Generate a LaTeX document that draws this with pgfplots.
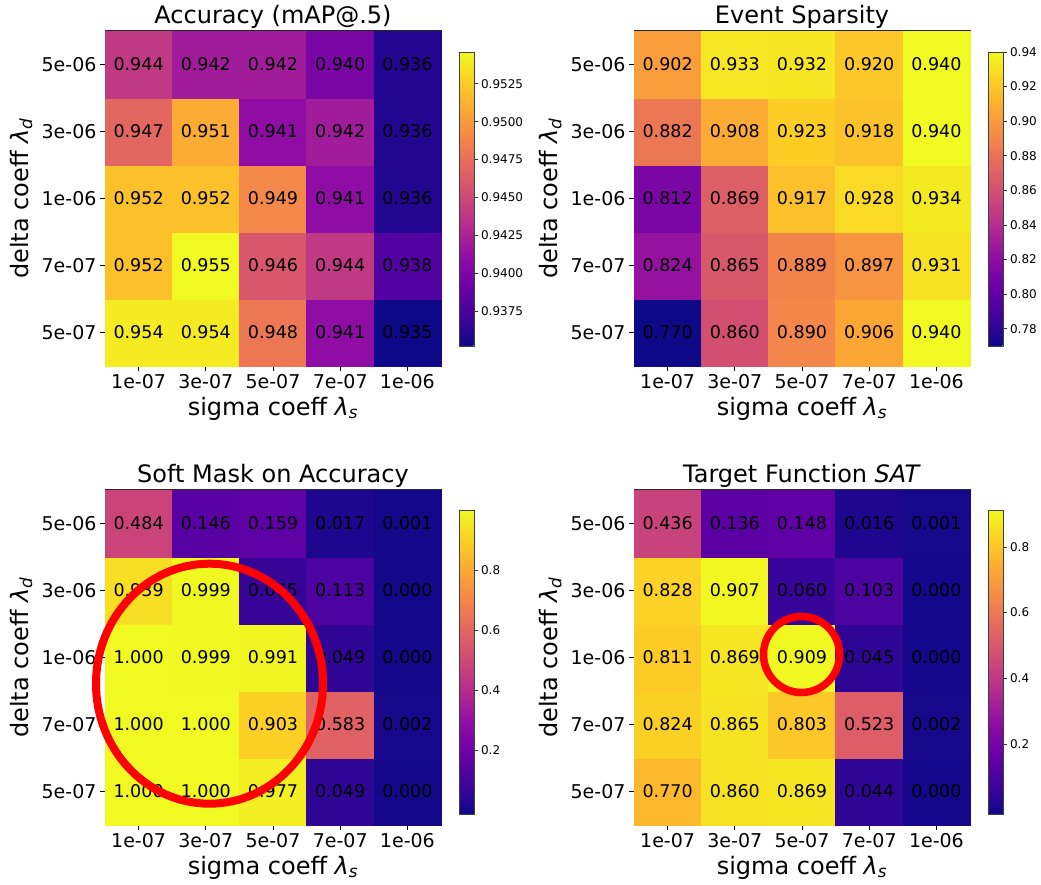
\documentclass[border=0pt]{standalone}
\usepackage{pgfplots}
\pgfplotsset{compat=1.18}
\usepackage{pgfplotstable}
\usepackage{fontspec}
\setmainfont{DejaVu Sans}

\pgfplotstableread{
x y v
0 0 0.954
1 0 0.954
2 0 0.948
3 0 0.941
4 0 0.935
0 1 0.952
1 1 0.955
2 1 0.946
3 1 0.944
4 1 0.938
0 2 0.952
1 2 0.952
2 2 0.949
3 2 0.941
4 2 0.936
0 3 0.947
1 3 0.951
2 3 0.941
3 3 0.942
4 3 0.936
0 4 0.944
1 4 0.942
2 4 0.942
3 4 0.940
4 4 0.936
}\tAcc

\pgfplotstableread{
x y v
0 0 0.770
1 0 0.860
2 0 0.890
3 0 0.906
4 0 0.940
0 1 0.824
1 1 0.865
2 1 0.889
3 1 0.897
4 1 0.931
0 2 0.812
1 2 0.869
2 2 0.917
3 2 0.928
4 2 0.934
0 3 0.882
1 3 0.908
2 3 0.923
3 3 0.918
4 3 0.940
0 4 0.902
1 4 0.933
2 4 0.932
3 4 0.920
4 4 0.940
}\tSpa

\pgfplotstableread{
x y v
0 0 1.000
1 0 1.000
2 0 0.977
3 0 0.049
4 0 0.000
0 1 1.000
1 1 1.000
2 1 0.903
3 1 0.583
4 1 0.002
0 2 1.000
1 2 0.999
2 2 0.991
3 2 0.049
4 2 0.000
0 3 0.939
1 3 0.999
2 3 0.065
3 3 0.113
4 3 0.000
0 4 0.484
1 4 0.146
2 4 0.159
3 4 0.017
4 4 0.001
}\tMask

\pgfplotstableread{
x y v
0 0 0.770
1 0 0.860
2 0 0.869
3 0 0.044
4 0 0.000
0 1 0.824
1 1 0.865
2 1 0.803
3 1 0.523
4 1 0.002
0 2 0.811
1 2 0.869
2 2 0.909
3 2 0.045
4 2 0.000
0 3 0.828
1 3 0.907
2 3 0.060
3 3 0.103
4 3 0.000
0 4 0.436
1 4 0.136
2 4 0.148
3 4 0.016
4 4 0.001
}\tSat

\pgfplotsset{
  colormap={plasma}{rgb255(0)=(13,8,135) rgb255(1)=(65,4,157) rgb255(2)=(106,0,168) rgb255(3)=(143,13,164) rgb255(4)=(177,42,144) rgb255(5)=(204,71,120) rgb255(6)=(225,100,98) rgb255(7)=(242,132,75) rgb255(8)=(252,166,54) rgb255(9)=(252,206,37) rgb255(10)=(240,249,33)},
  every colorbar/.append style={
    scale only axis, width=15pt,
    ytick pos=right, yticklabel pos=right,
    tick align=outside, major tick length=3.5pt,
    tick style={black!80, line width=0.8pt},
    axis line style={black!75, line width=0.8pt},
    yticklabel style={font=\fontsize{12}{14}\selectfont},
  },
  hm/.style={
    scale only axis, width=336pt, height=335pt,
    xmin=-0.5, xmax=4.5, ymin=-0.5, ymax=4.5, enlargelimits=false,
    xtick={0,1,2,3,4}, ytick={0,1,2,3,4},
    xticklabels={1e-07,3e-07,5e-07,7e-07,1e-06},
    yticklabels={5e-07,7e-07,1e-06,3e-06,5e-06},
    tick pos=left, tick align=outside, major tick length=5pt,
    tick style={black, line width=1pt},
    axis line style={black!85, line width=1pt},
    axis on top,
    ticklabel style={font=\fontsize{19}{22}\selectfont},
    xlabel={sigma coeff \textit{λ}\textsubscript{\textit{s}}},
    ylabel={delta coeff \textit{λ}\textsubscript{\textit{d}}},
    every axis title/.style={at={(0.5,1.0209)}, anchor=base, font=\fontsize{24}{28}\selectfont},
    every axis x label/.style={at={(0.5,-0.1463)}, anchor=base, font=\fontsize{24}{28}\selectfont},
    every axis y label/.style={at={(-0.229,0.5)}, anchor=base, rotate=90, font=\fontsize{24}{28}\selectfont},
    colormap name=plasma,
    clip=false,
    colorbar,
  },
  hmcells/.style={scatter, only marks, mark=square*, mark size=33.6pt,
    point meta=\thisrow{v},
    scatter/use mapped color={draw=mapped color, fill=mapped color}, mark options={line width=0.6pt}},
  hmnums/.style={draw=none, mark=none, point meta=\thisrow{v},
    nodes near coords={\pgfmathprintnumber[fixed,fixed zerofill,precision=3,assume math mode=true]{\pgfplotspointmeta}},
    every node near coord/.append style={anchor=center, font=\fontsize{17.5}{20}\selectfont, text=black, inner sep=0pt}},
}

\begin{document}
\begin{tikzpicture}
\useasboundingbox (0,0) rectangle (1041pt,885pt);

% top left
\begin{axis}[hm, at={(105pt,519pt)}, anchor=south west,
  title={Accuracy (mAP@.5)},
  point meta min=0.9352, point meta max=0.9546,
  colorbar style={at={(parent axis.south east)}, anchor=south west, xshift=9.5pt, yshift=20pt, height=294pt,
    ytick={0.9375,0.94,0.9425,0.945,0.9475,0.95,0.9525},
    yticklabels={0.9375,0.9400,0.9425,0.9450,0.9475,0.9500,0.9525}}]
\addplot[hmcells] table[x=x,y=y]{\tAcc};
\addplot[hmnums] table[x=x,y=y]{\tAcc};
\end{axis}

% top right
\begin{axis}[hm, at={(634pt,519pt)}, anchor=south west,
  title={Event Sparsity},
  point meta min=0.770, point meta max=0.940,
  colorbar style={at={(parent axis.south east)}, anchor=south west, xshift=9.5pt, yshift=20pt, height=294pt,
    ytick={0.78,0.80,0.82,0.84,0.86,0.88,0.90,0.92,0.94},
    yticklabels={0.78,0.80,0.82,0.84,0.86,0.88,0.90,0.92,0.94}}]
\addplot[hmcells] table[x=x,y=y]{\tSpa};
\addplot[hmnums] table[x=x,y=y]{\tSpa};
\end{axis}

% bottom left
\begin{axis}[hm, name=bl, at={(105pt,60pt)}, anchor=south west,
  title={Soft Mask on Accuracy},
  point meta min=-0.015, point meta max=1.0,
  colorbar style={at={(parent axis.south east)}, anchor=south west, xshift=9.5pt, yshift=10.5pt, height=304pt,
    ytick={0.2,0.4,0.6,0.8},
    yticklabels={0.2,0.4,0.6,0.8}}]
\addplot[hmcells] table[x=x,y=y]{\tMask};
\addplot[hmnums] table[x=x,y=y]{\tMask};
\end{axis}

% bottom right
\begin{axis}[hm, name=br, at={(634pt,60pt)}, anchor=south west,
  title={Target Function \textit{SAT}},
  point meta min=-0.015, point meta max=0.911,
  colorbar style={at={(parent axis.south east)}, anchor=south west, xshift=9.5pt, yshift=10.5pt, height=304pt,
    ytick={0.2,0.4,0.6,0.8},
    yticklabels={0.2,0.4,0.6,0.8}}]
\addplot[hmcells] table[x=x,y=y]{\tSat};
\addplot[hmnums] table[x=x,y=y]{\tSat};
\end{axis}

% red highlight rings (annotations)
\draw[red, line width=8pt] ([shift={(104.5pt,141.3pt)}]bl.south west) ellipse [x radius=113.5pt, y radius=120pt];
\draw[red, line width=7.5pt] ([shift={(167.5pt,170.5pt)}]br.south west) ellipse [x radius=38pt, y radius=38pt];
\end{tikzpicture}
\end{document}
